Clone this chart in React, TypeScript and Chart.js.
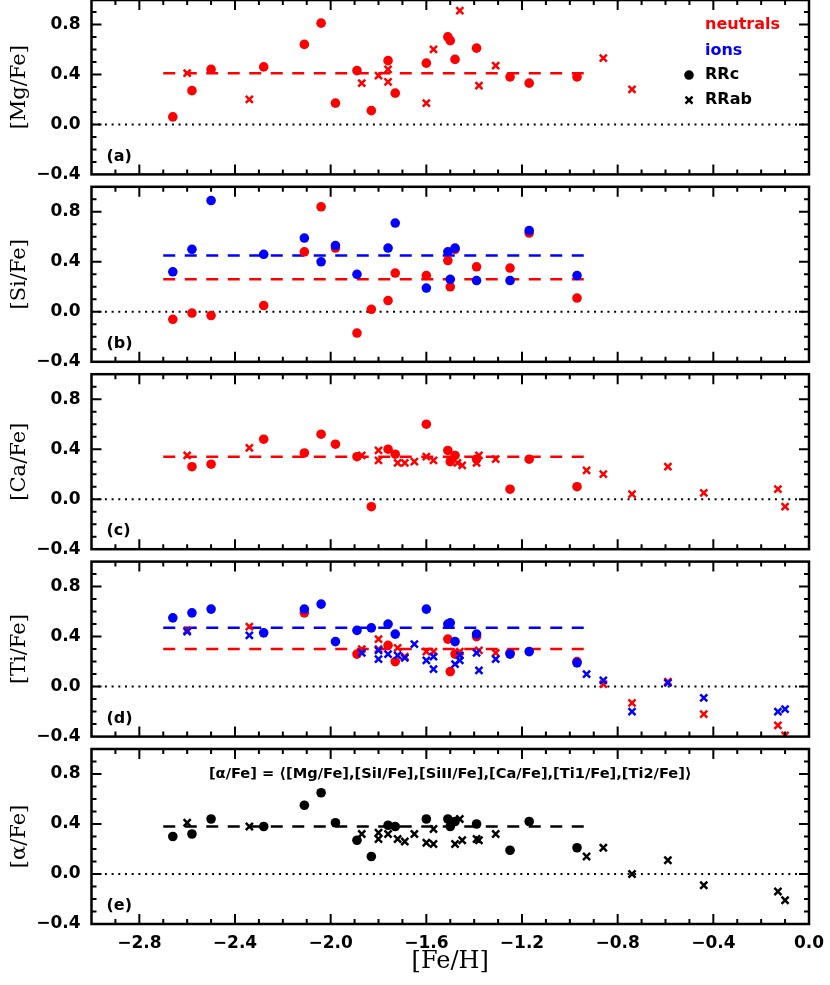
import React, { useEffect, useRef } from 'react';
import { Chart, registerables } from 'chart.js';

Chart.register(...registerables);

const RED = '#ff0000';
const BLUE = '#0000ff';
const BLACK = '#000000';

// shared axes
const feHTicks = [-2.8, -2.4, -2.0, -1.6, -1.2, -0.8, -0.4, 0.0];
const ratioTicks = [-0.4, 0.0, 0.4, 0.8];
const meanRange = [-2.70, -0.93];

// (a) [Mg/Fe] neutrals
const mgRRcFeH = [-2.66, -2.58, -2.50, -2.28, -2.11, -2.04, -1.98, -1.89, -1.83, -1.76, -1.73, -1.60, -1.51, -1.50, -1.48, -1.39, -1.25, -1.17, -0.97];
const mgRRc = [0.06, 0.27, 0.44, 0.46, 0.64, 0.81, 0.17, 0.43, 0.11, 0.51, 0.25, 0.49, 0.70, 0.67, 0.52, 0.61, 0.38, 0.33, 0.38];
const mgRRabFeH = [-2.60, -2.34, -1.87, -1.80, -1.76, -1.76, -1.60, -1.57, -1.46, -1.38, -1.31, -0.86, -0.74];
const mgRRab = [0.41, 0.20, 0.33, 0.39, 0.44, 0.34, 0.17, 0.60, 0.91, 0.31, 0.47, 0.53, 0.28];
const mgMean = 0.41;

// (b) [Si/Fe]
const siNeutralRRcFeH = [-2.66, -2.58, -2.50, -2.28, -2.11, -2.04, -1.98, -1.89, -1.83, -1.76, -1.73, -1.60, -1.51, -1.50, -1.48, -1.39, -1.25, -1.17, -0.97];
const siNeutralRRc = [-0.06, -0.01, -0.03, 0.05, 0.48, 0.84, 0.51, -0.17, 0.02, 0.09, 0.31, 0.29, 0.41, 0.20, 0.50, 0.36, 0.35, 0.63, 0.11];
const siIonRRcFeH = [-2.66, -2.58, -2.50, -2.28, -2.11, -2.04, -1.98, -1.89, -1.76, -1.73, -1.60, -1.51, -1.50, -1.48, -1.39, -1.25, -1.17, -0.97];
const siIonRRc = [0.32, 0.50, 0.89, 0.46, 0.59, 0.40, 0.53, 0.30, 0.51, 0.71, 0.19, 0.48, 0.26, 0.51, 0.25, 0.25, 0.65, 0.29];
const siNeutralMean = 0.26;
const siIonMean = 0.45;

// (c) [Ca/Fe] neutrals
const caRRcFeH = [-2.58, -2.50, -2.28, -2.11, -2.04, -1.98, -1.89, -1.83, -1.76, -1.73, -1.60, -1.51, -1.50, -1.48, -1.39, -1.25, -1.17, -0.97];
const caRRc = [0.26, 0.28, 0.48, 0.37, 0.52, 0.44, 0.34, -0.06, 0.40, 0.36, 0.60, 0.39, 0.30, 0.35, 0.32, 0.08, 0.32, 0.10];
const caRRabFeH = [-2.60, -2.34, -1.87, -1.80, -1.80, -1.72, -1.69, -1.65, -1.60, -1.57, -1.47, -1.45, -1.39, -1.38, -1.31, -0.93, -0.86, -0.74, -0.59, -0.44, -0.13, -0.10];
const caRRab = [0.35, 0.41, 0.35, 0.39, 0.31, 0.29, 0.29, 0.30, 0.34, 0.31, 0.29, 0.27, 0.29, 0.35, 0.32, 0.23, 0.20, 0.04, 0.26, 0.05, 0.08, -0.06];
const caMean = 0.34;

// (d) [Ti/Fe]
const tiNeutralRRcFeH = [-2.11, -1.89, -1.76, -1.73, -1.51, -1.50, -1.48, -1.39, -1.25, -0.97];
const tiNeutralRRc = [0.59, 0.26, 0.33, 0.20, 0.38, 0.12, 0.26, 0.40, 0.27, 0.20];
const tiIonRRcFeH = [-2.66, -2.58, -2.50, -2.28, -2.11, -2.04, -1.98, -1.89, -1.83, -1.76, -1.73, -1.60, -1.51, -1.50, -1.48, -1.39, -1.25, -1.17, -0.97];
const tiIonRRc = [0.55, 0.59, 0.62, 0.43, 0.62, 0.66, 0.36, 0.45, 0.47, 0.50, 0.42, 0.62, 0.50, 0.51, 0.36, 0.42, 0.26, 0.28, 0.19];
const tiNeutralRRabFeH = [-2.60, -2.34, -1.87, -1.80, -1.80, -1.72, -1.69, -1.60, -1.57, -1.46, -1.38, -1.31, -0.86, -0.74, -0.59, -0.44, -0.13, -0.10];
const tiNeutralRRab = [0.45, 0.48, 0.30, 0.38, 0.30, 0.31, 0.24, 0.28, 0.28, 0.28, 0.29, 0.27, 0.02, -0.13, 0.04, -0.22, -0.31, -0.39];
const tiIonRRabFeH = [-2.60, -2.34, -1.87, -1.80, -1.80, -1.76, -1.72, -1.69, -1.65, -1.60, -1.57, -1.57, -1.48, -1.46, -1.46, -1.39, -1.38, -1.31, -0.93, -0.86, -0.74, -0.59, -0.44, -0.13, -0.10];
const tiIonRRab = [0.44, 0.41, 0.27, 0.29, 0.22, 0.26, 0.25, 0.23, 0.34, 0.21, 0.24, 0.14, 0.18, 0.25, 0.21, 0.27, 0.13, 0.22, 0.10, 0.05, -0.20, 0.03, -0.09, -0.20, -0.18];
const tiNeutralMean = 0.30;
const tiIonMean = 0.47;

// (e) [alpha/Fe]
const alphaRRcFeH = [-2.66, -2.58, -2.50, -2.28, -2.11, -2.04, -1.98, -1.89, -1.83, -1.76, -1.73, -1.60, -1.51, -1.50, -1.48, -1.39, -1.25, -1.17, -0.97];
const alphaRRc = [0.30, 0.32, 0.44, 0.38, 0.55, 0.65, 0.41, 0.27, 0.14, 0.39, 0.38, 0.44, 0.44, 0.38, 0.42, 0.40, 0.19, 0.42, 0.21];
const alphaRRabFeH = [-2.60, -2.34, -1.87, -1.80, -1.80, -1.76, -1.72, -1.69, -1.65, -1.60, -1.57, -1.57, -1.48, -1.46, -1.45, -1.39, -1.38, -1.31, -0.93, -0.86, -0.74, -0.59, -0.44, -0.13, -0.10];
const alphaRRab = [0.41, 0.38, 0.32, 0.33, 0.28, 0.32, 0.28, 0.26, 0.32, 0.25, 0.24, 0.36, 0.24, 0.44, 0.27, 0.28, 0.27, 0.32, 0.14, 0.21, 0.00, 0.11, -0.09, -0.14, -0.21];
const alphaMean = 0.38;

const alphaNote = '[\u03b1/Fe] = \u27e8[Mg/Fe],[SiI/Fe],[SiII/Fe],[Ca/Fe],[Ti1/Fe],[Ti2/Fe]\u27e9';

type Series = { xs: number[]; ys: number[]; color: string; kind: 'rrc' | 'rrab'; order: number };
type Mean = { value: number; color: string };
type PanelDef = {
  title: string;
  letter: string;
  zero: number; // page y of the 0.0 line
  yMax: number;
  series: Series[];
  means: Mean[];
  legend?: boolean;
  note?: string;
  showX?: boolean;
};

const PX_PER_UNIT = 125;

const panels: PanelDef[] = [
  {
    title: '[Mg/Fe]', letter: '(a)', zero: 124.4, yMax: 0.995, legend: true,
    series: [
      { xs: mgRRcFeH, ys: mgRRc, color: RED, kind: 'rrc', order: 2 },
      { xs: mgRRabFeH, ys: mgRRab, color: RED, kind: 'rrab', order: 2 },
    ],
    means: [{ value: mgMean, color: RED }],
  },
  {
    title: '[Si/Fe]', letter: '(b)', zero: 311.8, yMax: 1.0,
    series: [
      { xs: siNeutralRRcFeH, ys: siNeutralRRc, color: RED, kind: 'rrc', order: 2 },
      { xs: siIonRRcFeH, ys: siIonRRc, color: BLUE, kind: 'rrc', order: 1 },
    ],
    means: [{ value: siNeutralMean, color: RED }, { value: siIonMean, color: BLUE }],
  },
  {
    title: '[Ca/Fe]', letter: '(c)', zero: 499.2, yMax: 1.0,
    series: [
      { xs: caRRcFeH, ys: caRRc, color: RED, kind: 'rrc', order: 2 },
      { xs: caRRabFeH, ys: caRRab, color: RED, kind: 'rrab', order: 2 },
    ],
    means: [{ value: caMean, color: RED }],
  },
  {
    title: '[Ti/Fe]', letter: '(d)', zero: 686.6, yMax: 1.0,
    series: [
      { xs: tiNeutralRRcFeH, ys: tiNeutralRRc, color: RED, kind: 'rrc', order: 2 },
      { xs: tiIonRRcFeH, ys: tiIonRRc, color: BLUE, kind: 'rrc', order: 1 },
      { xs: tiNeutralRRabFeH, ys: tiNeutralRRab, color: RED, kind: 'rrab', order: 2 },
      { xs: tiIonRRabFeH, ys: tiIonRRab, color: BLUE, kind: 'rrab', order: 1 },
    ],
    means: [{ value: tiNeutralMean, color: RED }, { value: tiIonMean, color: BLUE }],
  },
  {
    title: '[\u03b1/Fe]', letter: '(e)', zero: 874.0, yMax: 1.0, showX: true, note: alphaNote,
    series: [
      { xs: alphaRRcFeH, ys: alphaRRc, color: BLACK, kind: 'rrc', order: 2 },
      { xs: alphaRRabFeH, ys: alphaRRab, color: BLACK, kind: 'rrab', order: 2 },
    ],
    means: [{ value: alphaMean, color: BLACK }],
  },
];

const fmt = (v: number) => {
  const s = Math.abs(v) < 1e-9 ? '0.0' : v.toFixed(1);
  return s.replace('-', '\u2212');
};

function makeDecor(p: PanelDef) {
  return {
    id: 'decor',
    afterDatasetsDraw(chart: any) {
      const { ctx, chartArea: a } = chart;
      const x = chart.scales.x;
      const y = chart.scales.y;
      ctx.save();
      ctx.strokeStyle = BLACK;
      ctx.lineWidth = 2;
      ctx.beginPath();
      for (let k = -29; k <= -1; k++) {
        const px = x.getPixelForValue(k / 10);
        const len = k % 4 === 0 ? 10 : 5;
        ctx.moveTo(px, a.bottom);
        ctx.lineTo(px, a.bottom - len);
        ctx.moveTo(px, a.top);
        ctx.lineTo(px, a.top + len);
      }
      for (let k = -3; k <= 9; k++) {
        const py = y.getPixelForValue(k / 10);
        const len = k % 4 === 0 ? 10 : 5;
        ctx.moveTo(a.left, py);
        ctx.lineTo(a.left + len, py);
        ctx.moveTo(a.right, py);
        ctx.lineTo(a.right - len, py);
      }
      ctx.stroke();
      ctx.lineWidth = 2.5;
      ctx.strokeRect(a.left, a.top, a.right - a.left, a.bottom - a.top);

      ctx.fillStyle = BLACK;
      ctx.textAlign = 'left';
      ctx.textBaseline = 'middle';
      ctx.font = 'bold 16px "DejaVu Sans"';
      ctx.fillText(p.letter, a.left + 15, a.bottom - 18);

      if (p.legend) {
        const lx = a.right - 104;
        ctx.fillStyle = RED;
        ctx.fillText('neutrals', lx, a.top + 25);
        ctx.fillStyle = BLUE;
        ctx.fillText('ions', lx, a.top + 51);
        ctx.fillStyle = BLACK;
        ctx.fillText('RRc', lx, a.top + 75);
        ctx.fillText('RRab', lx, a.top + 100);
        const mx = lx - 16;
        ctx.beginPath();
        ctx.arc(mx, a.top + 75, 4.8, 0, Math.PI * 2);
        ctx.fill();
        ctx.lineWidth = 2.5;
        ctx.beginPath();
        ctx.moveTo(mx - 3.5, a.top + 100 - 3.5);
        ctx.lineTo(mx + 3.5, a.top + 100 + 3.5);
        ctx.moveTo(mx - 3.5, a.top + 100 + 3.5);
        ctx.lineTo(mx + 3.5, a.top + 100 - 3.5);
        ctx.stroke();
      }

      if (p.note) {
        ctx.font = 'bold 14px "DejaVu Sans"';
        const w = ctx.measureText(p.note).width;
        const size = (14 * 483) / w;
        ctx.font = `bold ${size.toFixed(2)}px "DejaVu Sans"`;
        ctx.textAlign = 'center';
        ctx.fillText(p.note, (a.left + a.right) / 2, a.top + 25);
      }
      ctx.restore();
    },
  };
}

function buildConfig(p: PanelDef, padTop: number, padBottom: number): any {
  const datasets: any[] = [];
  datasets.push({
    data: [{ x: -3, y: 0 }, { x: 0, y: 0 }],
    showLine: true,
    borderColor: BLACK,
    borderWidth: 2,
    borderDash: [2, 4.7],
    pointRadius: 0,
    order: 10,
  });
  p.means.forEach((m) => {
    datasets.push({
      data: [{ x: meanRange[0], y: m.value }, { x: meanRange[1], y: m.value }],
      showLine: true,
      borderColor: m.color,
      borderWidth: 2.5,
      borderDash: [12, 9.5],
      pointRadius: 0,
      order: 9,
    });
  });
  p.series.forEach((s) => {
    datasets.push({
      data: s.xs.map((x, j) => ({ x, y: s.ys[j] })),
      pointStyle: s.kind === 'rrc' ? 'circle' : 'crossRot',
      pointRadius: s.kind === 'rrc' ? 4.8 : 5,
      backgroundColor: s.color,
      borderColor: s.color,
      borderWidth: s.kind === 'rrc' ? 0 : 2.5,
      order: s.order,
    });
  });

  return {
    type: 'scatter',
    data: { datasets },
    plugins: [makeDecor(p)],
    options: {
      animation: false,
      responsive: false,
      maintainAspectRatio: false,
      devicePixelRatio: 1,
      events: [],
      layout: { autoPadding: false, padding: { left: 0, right: 21, top: padTop, bottom: padBottom } },
      plugins: { legend: { display: false }, tooltip: { enabled: false } },
      scales: {
        x: {
          type: 'linear',
          min: -3,
          max: 0,
          display: !!p.showX,
          grid: { display: false, drawTicks: false },
          border: { display: false },
          ticks: {
            padding: 9,
            color: BLACK,
            font: { family: 'DejaVu Sans', size: 17, weight: 'bold' },
            callback: (v: number) => fmt(v),
            maxRotation: 0,
            autoSkip: false,
          },
          title: {
            display: !!p.showX,
            text: '[Fe/H]',
            color: BLACK,
            font: { family: 'DejaVu Serif', size: 24 },
            padding: { top: 0, bottom: 8.6 },
          },
          afterBuildTicks: (s: any) => {
            s.ticks = feHTicks.map((v) => ({ value: v }));
          },
          afterFit: (s: any) => {
            s.height = p.showX ? 61 : 0;
            s.paddingLeft = 0;
            s.paddingRight = 0;
            s.paddingTop = 0;
            s.paddingBottom = 0;
          },
        },
        y: {
          type: 'linear',
          min: -0.4,
          max: p.yMax,
          grid: { display: false, drawTicks: false },
          border: { display: false },
          ticks: {
            padding: 11,
            color: BLACK,
            font: { family: 'DejaVu Sans', size: 17, weight: 'bold' },
            callback: (v: number) => fmt(v),
            autoSkip: false,
          },
          title: {
            display: true,
            text: p.title,
            color: BLACK,
            font: { family: 'DejaVu Serif', size: 21 },
            padding: { top: 7.4, bottom: 0 },
          },
          afterBuildTicks: (s: any) => {
            s.ticks = ratioTicks.map((v) => ({ value: v }));
          },
          afterFit: (s: any) => {
            s.width = 91.5;
            s.paddingTop = 0;
            s.paddingBottom = 0;
            s.paddingLeft = 0;
            s.paddingRight = 0;
          },
        },
      },
    },
  };
}

function Panel({ p }: { p: PanelDef }) {
  const ref = useRef<HTMLCanvasElement>(null);
  const areaTop = p.zero - p.yMax * PX_PER_UNIT;
  const areaBottom = p.zero + 0.4 * PX_PER_UNIT;
  const top = Math.max(0, Math.round(areaTop) - 12);
  const padTop = Math.max(0, areaTop - top);
  const height = p.showX ? 985 - top : Math.round(areaBottom - top + 15);
  const padBottom = p.showX ? 0 : height - (areaBottom - top);

  useEffect(() => {
    if (!ref.current) return;
    const chart = new Chart(ref.current, buildConfig(p, padTop, padBottom));
    return () => chart.destroy();
  }, []);

  return (
    <canvas
      ref={ref}
      width={830}
      height={height}
      style={{ position: 'absolute', left: 0, top, width: 830, height }}
    />
  );
}

export default function App() {
  return (
    <div style={{ position: 'absolute', left: 0, top: 0, width: 830, height: 985, background: '#fff', overflow: 'hidden' }}>
      {panels.map((p) => (
        <Panel key={p.letter} p={p} />
      ))}
    </div>
  );
}
